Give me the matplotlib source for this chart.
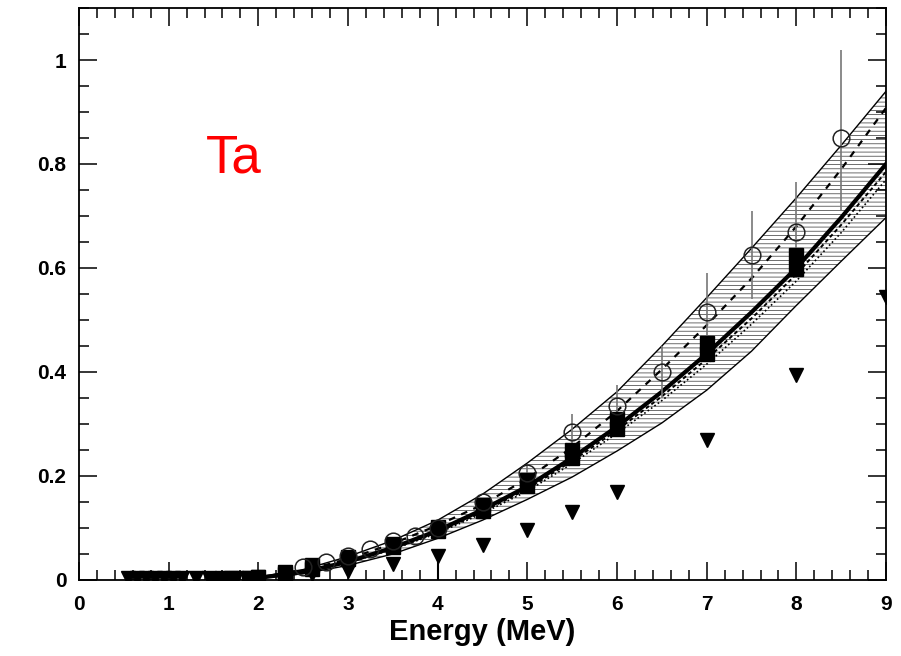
import matplotlib
matplotlib.use("Agg")
import matplotlib.pyplot as plt
from matplotlib.ticker import MultipleLocator, FuncFormatter

plt.rcParams['font.family'] = ['Liberation Sans', 'DejaVu Sans']
plt.rcParams['hatch.linewidth'] = 0.6

# ---- curves ----
curve_x = [2.0, 2.5, 3.0, 3.5, 4.0, 4.5, 5.0, 5.5, 6.0, 6.5, 7.0, 7.5, 8.0, 8.5, 9.0]
band_upper = [0.006, 0.020, 0.045, 0.076, 0.115, 0.165, 0.225, 0.290, 0.362, 0.450, 0.543, 0.638, 0.735, 0.836, 0.940]
band_lower = [0.003, 0.012, 0.028, 0.050, 0.080, 0.115, 0.155, 0.198, 0.248, 0.302, 0.365, 0.440, 0.528, 0.613, 0.697]
thick_line = [0.004, 0.015, 0.035, 0.062, 0.095, 0.135, 0.180, 0.235, 0.295, 0.362, 0.435, 0.515, 0.600, 0.697, 0.800]
dashed_line = [0.005, 0.018, 0.040, 0.070, 0.105, 0.145, 0.195, 0.255, 0.325, 0.405, 0.490, 0.580, 0.680, 0.790, 0.908]
dotted_line1 = [0.004, 0.014, 0.034, 0.060, 0.092, 0.131, 0.175, 0.229, 0.288, 0.353, 0.425, 0.503, 0.588, 0.683, 0.785]
dotted_line2 = [0.004, 0.014, 0.033, 0.059, 0.090, 0.128, 0.171, 0.224, 0.282, 0.345, 0.415, 0.492, 0.575, 0.668, 0.770]

# ---- open circles with error bars ----
circ_x = [2.5, 2.75, 3.0, 3.25, 3.5, 3.75, 4.0, 4.5, 5.0, 5.5, 6.0, 6.5, 7.0, 7.5, 8.0, 8.5]
circ_y = [0.025, 0.035, 0.047, 0.060, 0.075, 0.085, 0.100, 0.150, 0.205, 0.285, 0.335, 0.400, 0.515, 0.625, 0.670, 0.850]
circ_err_lo = [0.0, 0.0, 0.0, 0.0, 0.0, 0.0, 0.0, 0.0, 0.015, 0.035, 0.040, 0.050, 0.075, 0.085, 0.090, 0.140]
circ_err_hi = [0.0, 0.0, 0.0, 0.0, 0.0, 0.0, 0.0, 0.0, 0.015, 0.035, 0.040, 0.050, 0.075, 0.085, 0.095, 0.170]

# ---- filled squares (two sets) ----
sqA_x = [1.5, 1.7, 1.9, 2.3, 2.6, 3.0, 3.5, 4.0, 4.5, 5.0, 5.5, 6.0, 7.0, 8.0]
sqA_y = [0.002, 0.003, 0.004, 0.015, 0.028, 0.045, 0.070, 0.102, 0.145, 0.193, 0.250, 0.310, 0.455, 0.625]
sqB_x = [2.0, 2.3, 2.6, 3.0, 3.5, 4.0, 4.5, 5.0, 5.5, 6.0, 7.0, 8.0]
sqB_y = [0.005, 0.012, 0.022, 0.040, 0.063, 0.095, 0.133, 0.180, 0.235, 0.290, 0.435, 0.598]

# ---- filled down triangles ----
tri_x = [0.55, 0.65, 0.75, 0.85, 0.95, 1.05, 1.15, 1.3, 1.45, 1.6, 1.75, 1.9, 2.0, 2.6, 3.0, 3.5, 4.0, 4.5, 5.0, 5.5, 6.0, 7.0, 8.0, 9.0]
tri_y = [0.003, 0.003, 0.003, 0.003, 0.003, 0.003, 0.003, 0.003, 0.003, 0.003, 0.004, 0.004, 0.005, 0.012, 0.018, 0.031, 0.046, 0.068, 0.097, 0.131, 0.170, 0.270, 0.394, 0.544]

x_ticks = [0, 1, 2, 3, 4, 5, 6, 7, 8, 9]
y_ticks = [0, 0.2, 0.4, 0.6, 0.8, 1.0]

fig = plt.figure(figsize=(9.01, 6.56), dpi=100)
ax = fig.add_axes([0.0877, 0.1159, 0.8957, 0.8719])

# hatched band
ax.fill_between(curve_x, band_lower, band_upper, facecolor='none', edgecolor='#555555',
                hatch='----', linewidth=0, zorder=1)
ax.plot(curve_x, band_upper, color='black', lw=1.0, zorder=2)
ax.plot(curve_x, band_lower, color='black', lw=1.0, zorder=2)
ax.plot(curve_x, dashed_line, color='black', lw=1.6, ls=(0, (3, 3)), zorder=2)
ax.plot(curve_x, dotted_line1, color='black', lw=1.4, ls=(0, (2, 1.5)), zorder=2)
ax.plot(curve_x, dotted_line2, color='black', lw=1.2, ls=(0, (1, 1.5)), zorder=2)
ax.plot(curve_x, thick_line, color='black', lw=3.0, zorder=3)

# error bars (gray)
ax.errorbar(circ_x, circ_y, yerr=[circ_err_lo, circ_err_hi], fmt='none',
            ecolor='#777777', elinewidth=1.2, capsize=0, zorder=4)
ax.errorbar([4.0], [0.046], yerr=[[0.046], [0.0]], fmt='none', ecolor='black',
            elinewidth=1.5, capsize=0, zorder=4)

ax.plot(tri_x, tri_y, linestyle='none', marker='v', ms=10, color='black', zorder=5)
ax.plot(sqB_x, sqB_y, linestyle='none', marker='s', ms=10, color='black', zorder=5)
ax.plot(sqA_x, sqA_y, linestyle='none', marker='s', ms=10, color='black', zorder=5)
ax.plot(circ_x, circ_y, linestyle='none', marker='o', ms=12, markerfacecolor='none',
        markeredgecolor='#222222', markeredgewidth=1.1, zorder=6)

ax.text(1.42, 0.784, 'Ta', color='red', fontsize=38, ha='left', va='baseline')

ax.set_xlim(0, 9)
ax.set_ylim(0, 1.1)
ax.set_xticks(x_ticks)
ax.set_yticks(y_ticks)
ax.xaxis.set_minor_locator(MultipleLocator(0.2))
ax.yaxis.set_minor_locator(MultipleLocator(0.05))
ax.yaxis.set_major_formatter(FuncFormatter(lambda v, p: '%g' % v))
ax.tick_params(which='both', direction='in', top=True, right=True, width=1.1)
ax.tick_params(which='major', length=13, labelsize=15)
ax.tick_params(axis='x', which='major', pad=11)
ax.tick_params(axis='y', which='major', pad=9)
ax.tick_params(which='minor', length=7)
for lab in ax.get_xticklabels() + ax.get_yticklabels():
    lab.set_fontweight('bold')
for s in ax.spines.values():
    s.set_linewidth(1.3)
ax.set_xlabel('Energy (MeV)', fontsize=21, fontweight='bold', labelpad=3)

fig.savefig('out.png', dpi=100)
